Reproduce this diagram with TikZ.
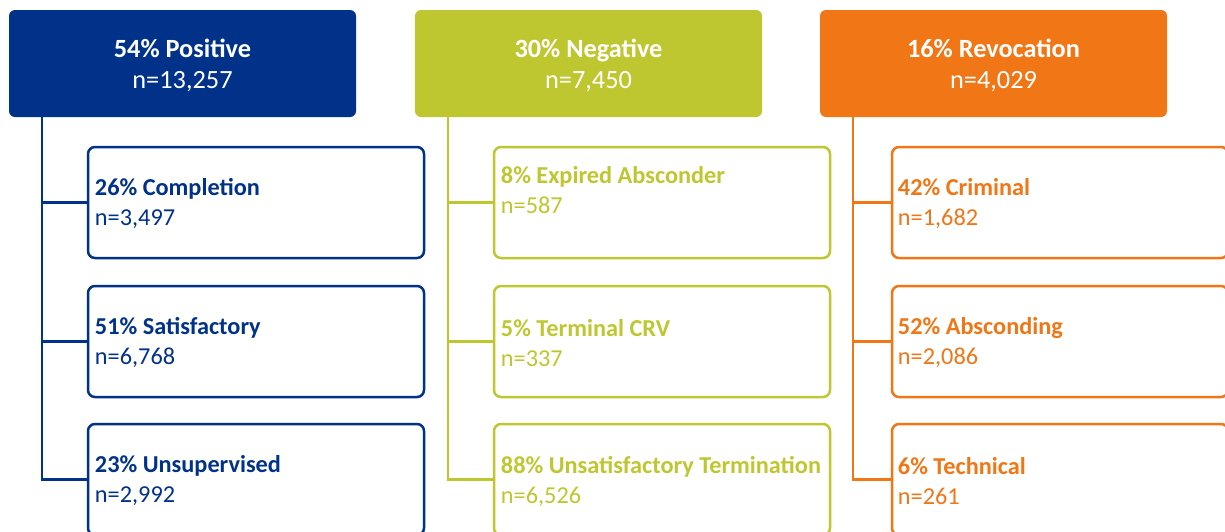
\documentclass[tikz,border=0pt]{standalone}
\usepackage{fontspec}
\setmainfont{Carlito}
\definecolor{navy}{RGB}{0,50,138}
\definecolor{olive}{RGB}{190,199,48}
\definecolor{orng}{RGB}{240,118,22}
\begin{document}
\begin{tikzpicture}[x=1pt,y=-1pt,
  topbox/.style={fill=#1, rounded corners=6pt, minimum width=347pt, minimum height=107pt, inner sep=0pt, text=white, align=center, font=\fontsize{26.3}{31}\selectfont},
  childbox/.style={draw=#1, line width=2.5pt, rounded corners=7pt, minimum width=336pt, minimum height=111pt, inner sep=0pt, fill=white},
  txt/.style={text=#1, anchor=west, inner sep=0pt, align=left, font=\fontsize{24.3}{30}\selectfont},
  trunk/.style={draw=#1, line width=2.6pt}]
\useasboundingbox (0,0) rectangle (1225,531);
\clip (0,0) rectangle (1225,531);
\fill[white] (0,0) rectangle (1225,531);
% top boxes
\node[topbox=navy] (pos) at (182.5,63.5) {};
\node[topbox=olive] (neg) at (588.5,63.5) {};
\node[topbox=orng] (rev) at (993.5,63.5) {};
\node[text=white, align=center, inner sep=0pt, font=\fontsize{26.3}{31}\selectfont] (post) at ([yshift=-2pt]pos.center) {\textbf{54\% Positive}\\n=13,257};
\node[text=white, align=center, inner sep=0pt, font=\fontsize{26.3}{31}\selectfont] (negt) at ([yshift=-2pt]neg.center) {\textbf{30\% Negative}\\n=7,450};
\node[text=white, align=center, inner sep=0pt, font=\fontsize{26.3}{31}\selectfont] (revt) at ([yshift=-2pt]rev.center) {\textbf{16\% Revocation}\\n=4,029};
% child boxes
\node[childbox=navy] (p1) at (256,202.5) {};
\node[childbox=navy] (p2) at (256,341.5) {};
\node[childbox=navy] (p3) at (256,479.5) {};
\node[childbox=olive] (n1) at (662,202.5) {};
\node[childbox=olive] (n2) at (662,341.5) {};
\node[childbox=olive] (n3) at (662,479.5) {};
\node[childbox=orng] (r1) at (1060,202.5) {};
\node[childbox=orng] (r2) at (1060,341.5) {};
\node[childbox=orng] (r3) at (1060,479.5) {};
% texts
\node[txt=navy] (p1t) at ([xshift=8pt,yshift=-1.5pt]p1.west) {\textbf{26\% Completion}\\n=3,497};
\node[txt=navy] (p2t) at ([xshift=8pt,yshift=-1.5pt]p2.west) {\textbf{51\% Satisfactory}\\n=6,768};
\node[txt=navy] (p3t) at ([xshift=8pt,yshift=-1.5pt]p3.west) {\textbf{23\% Unsupervised}\\n=2,992};
\node[txt=olive] (n1t) at ([xshift=8pt,yshift=12.5pt]n1.west) {\textbf{8\% Expired Absconder}\\n=587};
\node[txt=olive] (n2t) at ([xshift=8pt,yshift=-1.5pt]n2.west) {\textbf{5\% Terminal CRV}\\n=337};
\node[txt=olive] (n3t) at ([xshift=8pt,yshift=-1.5pt]n3.west) {\textbf{88\% Unsatisfactory Termination}\\n=6,526};
\node[txt=orng] (r1t) at ([xshift=7pt,yshift=-1.5pt]r1.west) {\textbf{42\% Criminal}\\n=1,682};
\node[txt=orng] (r2t) at ([xshift=7pt,yshift=-1.5pt]r2.west) {\textbf{52\% Absconding}\\n=2,086};
\node[txt=orng] (r3t) at ([xshift=7pt,yshift=-1.5pt]r3.west) {\textbf{6\% Technical}\\n=261};
% connectors
\coordinate (pt) at ([xshift=33pt]pos.south west);
\coordinate (nt) at ([xshift=33pt]neg.south west);
\coordinate (rt) at ([xshift=33pt]rev.south west);
\draw[trunk=navy] (pt) |- (p3.west);
\draw[trunk=navy] (p1.west) -- (p1.west -| pt);
\draw[trunk=navy] (p2.west) -- (p2.west -| pt);
\draw[trunk=olive] (nt) |- (n3.west);
\draw[trunk=olive] (n1.west) -- (n1.west -| nt);
\draw[trunk=olive] (n2.west) -- (n2.west -| nt);
\draw[trunk=orng] (rt) |- (r3.west);
\draw[trunk=orng] (r1.west) -- (r1.west -| rt);
\draw[trunk=orng] (r2.west) -- (r2.west -| rt);
\end{tikzpicture}
\end{document}
